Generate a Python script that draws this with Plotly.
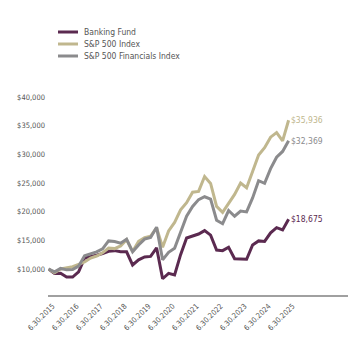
import plotly.graph_objects as go

quarters = list(range(41))
tick_idx = [0, 4, 8, 12, 16, 20, 24, 28, 32, 36, 40]
tick_labels = ["6.30.2015", "6.30.2016", "6.30.2017", "6.30.2018", "6.30.2019",
               "6.30.2020", "6.30.2021", "6.30.2022", "6.30.2023", "6.30.2024", "6.30.2025"]

banking_fund = [10000, 9200, 9250, 8600, 8600, 9500, 11900, 12100, 12400, 12700,
                13100, 13200, 13000, 13000, 10700, 11600, 12100, 12200, 13700, 8300,
                9250, 8950, 12500, 15400, 15800, 16100, 16700, 15900, 13300, 13200,
                13800, 11800, 11750, 11700, 14200, 14900, 14800, 16300, 17200, 16800,
                18675]
sp500 = [10000, 9360, 10015, 10145, 10399, 10804, 11215, 11899, 12268, 12820,
         13666, 13557, 14018, 15098, 13060, 14836, 15474, 15737, 17169, 13804,
         16634, 18115, 20306, 21565, 23398, 23538, 26127, 24925, 20912, 19888,
         21399, 23004, 25005, 24180, 27009, 29872, 31156, 32994, 33786, 32333,
         35936]
sp500_fin = [10000, 9500, 10100, 9850, 9900, 10500, 12300, 12600, 13000, 13500,
             14900, 14800, 14500, 15200, 13000, 14200, 15200, 15500, 17300, 11600,
             12900, 13600, 16300, 19200, 20900, 22100, 22600, 22200, 18500, 17900,
             20200, 19200, 20100, 19950, 22400, 25400, 24950, 27500, 29500, 30500,
             32369]

series = [
    ("Banking Fund", banking_fund, "#5b2a50"),
    ("S&P 500 Index", sp500, "#c0b78e"),
    ("S&P 500 Financials Index", sp500_fin, "#8b8b8d"),
]

font_family = "DejaVu Sans Condensed, Liberation Sans Narrow, Roboto, sans-serif"
text_color = "#555555"

fig = go.Figure()
for i, (name, vals, color) in enumerate(series):
    fig.add_trace(go.Scatter(x=quarters, y=vals, mode="lines", name=name,
                             line=dict(color=color, width=3), showlegend=False))
    fig.add_annotation(x=quarters[-1], y=vals[-1], text=f"${vals[-1]:,}",
                       xanchor="left", yanchor="middle", showarrow=False,
                       xshift=0, font=dict(color=color, size=8.5, family=font_family))
    # legend entry (line sample + label), laid out in pixels above the plot
    ly = 32 + 12 * i
    fig.add_shape(type="line", xref="paper", yref="paper",
                  x0=(58 - 48) / 300, x1=(78 - 48) / 300,
                  y0=(295 - ly) / 205, y1=(295 - ly) / 205,
                  line=dict(color=color, width=3))
    fig.add_annotation(xref="paper", yref="paper", x=(82 - 48) / 300,
                       y=(295 - ly) / 205, text=name, showarrow=False,
                       xanchor="left", yanchor="middle",
                       font=dict(size=8.5, color=text_color, family=font_family))

fig.update_layout(
    width=348, height=340,
    margin=dict(l=48, r=0, t=90, b=45),
    plot_bgcolor="white", paper_bgcolor="white",
    font=dict(family=font_family, color=text_color, size=8),
    showlegend=False,
    xaxis=dict(range=[-0.1, 49.9], tickmode="array", tickvals=tick_idx,
               ticktext=tick_labels, tickangle=-45, showgrid=False,
               zeroline=False, showline=True, linecolor="#a0a0a0", linewidth=1.5,
               ticks="", ticklabelstandoff=2, ticklabelshift=4,
               tickfont=dict(size=7.5, color=text_color)),
    yaxis=dict(range=[5466, 41217], tickmode="array",
               tickvals=[10000, 15000, 20000, 25000, 30000, 35000, 40000],
               ticktext=["$10,000", "$15,000", "$20,000", "$25,000", "$30,000",
                         "$35,000", "$40,000"],
               showgrid=False, zeroline=False, showline=False, ticks="",
               ticklabelstandoff=2,
               tickfont=dict(size=7.5, color=text_color)),
)

fig.write_html("out.html")
